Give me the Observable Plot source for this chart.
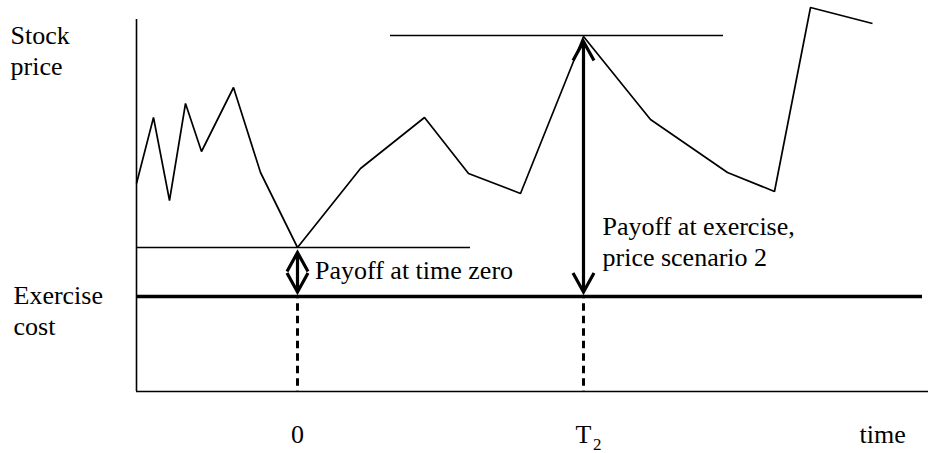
<!DOCTYPE html>
<html><head><meta charset="utf-8">
<script src="https://cdn.jsdelivr.net/npm/d3@7"></script>
<script src="https://cdn.jsdelivr.net/npm/@observablehq/plot@0.6"></script>
<style>html,body{margin:0;padding:0;background:#fff;} svg text{font-family:"Liberation Serif","Tinos","Times New Roman",serif !important;}</style>
</head><body><div id="chart"></div>
<script>
// time (horizontal offset from the price axis) and stock price (height above time axis)
const times  = [0, 17, 33, 49, 65, 97, 124, 161, 224, 288, 332, 384, 447, 514, 591, 638, 674, 736];
const prices = [208, 274, 191, 288, 240, 304, 219, 144, 223, 274, 218, 198, 355, 272, 219, 200, 384, 368];

const exerciseCost = 95;      // exercise cost level
const timeZero = 161;         // "0"
const timeT2 = 447;           // "T2"
const priceAtZero = 144;      // price at time zero
const priceAtT2 = 355;        // price at T2 (scenario 2)
const axisTop = 372;
const axisRight = 792;
const exerciseEnd = 786;
const zeroLineEnd = 334;
const peakLine = [254, 587];
const peakLevel = 356;

const xTickValues = [timeZero, timeT2];
const xTickLabels = ["0", "T"];

const priceData = times.map((t, i) => ({t, p: prices[i]}));
const payoffArrows = [
  {t: timeZero, p1: exerciseCost, p2: priceAtZero},
  {t: timeT2, p1: exerciseCost, p2: priceAtT2}
];

// double-headed arrow shape for Plot.vector
const doubleArrow = {
  draw(ctx, l) {
    const inB = 4.5, inT = 5, hl = 19, hw = 10.5;
    ctx.moveTo(0, -inB); ctx.lineTo(0, -l + inT);
    ctx.moveTo(-hw, -l + inT + hl); ctx.lineTo(0, -l + inT); ctx.lineTo(hw, -l + inT + hl);
    ctx.moveTo(-hw, -inB - hl); ctx.lineTo(0, -inB); ctx.lineTo(hw, -inB - hl);
  }
};

const font = "Liberation Serif, Tinos, Times New Roman, serif";
const txt = {fontFamily: font, fontSize: 26, lineAnchor: "bottom", lineHeight: 1.17, fill: "black"};

const chart = Plot.plot({
  width: 928, height: 453,
  marginLeft: 136, marginRight: 0, marginTop: 0, marginBottom: 62,
  x: {domain: [0, 792], axis: null},
  y: {domain: [0, 391], axis: null},
  length: {type: "identity"},
  style: {fontFamily: font, background: "white", color: "black", overflow: "visible"},
  marks: [
    Plot.ruleX([0], {y1: 0, y2: axisTop, strokeWidth: 1.6, stroke: "black"}),
    Plot.ruleY([0], {x1: 0, x2: axisRight, strokeWidth: 1.6, stroke: "black"}),
    Plot.ruleY([priceAtZero], {x1: 0, x2: zeroLineEnd, strokeWidth: 1.6, stroke: "black"}),
    Plot.ruleY([peakLevel], {x1: peakLine[0], x2: peakLine[1], strokeWidth: 1.6, stroke: "black"}),
    Plot.ruleY([exerciseCost], {x1: 0, x2: exerciseEnd, strokeWidth: 3.5, stroke: "black"}),
    Plot.ruleX(xTickValues, {y1: exerciseCost, y2: 0, strokeWidth: 3, stroke: "black", strokeDasharray: "7.5,5", strokeDashoffset: 5.2}),
    Plot.line(priceData, {x: "t", y: "p", stroke: "black", strokeWidth: 1.7, strokeLinejoin: "miter", strokeLinecap: "butt"}),
    Plot.vector(payoffArrows, {x: "t", y: "p1", length: (d) => d.p2 - d.p1, rotate: 0, anchor: "start", shape: doubleArrow, stroke: "black", strokeWidth: 3.2, strokeLinejoin: "miter", strokeLinecap: "butt"}),
    Plot.text(["Stock\nprice"], {...txt, x: -126, y: 317, textAnchor: "start"}),
    Plot.text(["Exercise\ncost"], {...txt, x: -123, y: 57, textAnchor: "start"}),
    Plot.text(["Payoff at time zero"], {...txt, x: timeZero + 17.5, y: 113, textAnchor: "start"}),
    Plot.text(["Payoff at exercise,\nprice scenario 2"], {...txt, x: timeT2 + 19, y: 126, textAnchor: "start"}),
    Plot.text(xTickLabels, {...txt, x: (d, i) => xTickValues[i], y: -51, textAnchor: "middle"}),
    Plot.text(["2"], {...txt, fontSize: 17, x: timeT2, dx: 9.5, y: -58, textAnchor: "start"}),
    Plot.text(["time"], {...txt, x: 723, y: -51, textAnchor: "start"})
  ]
});
document.getElementById("chart").appendChild(chart);
</script>
</body></html>
